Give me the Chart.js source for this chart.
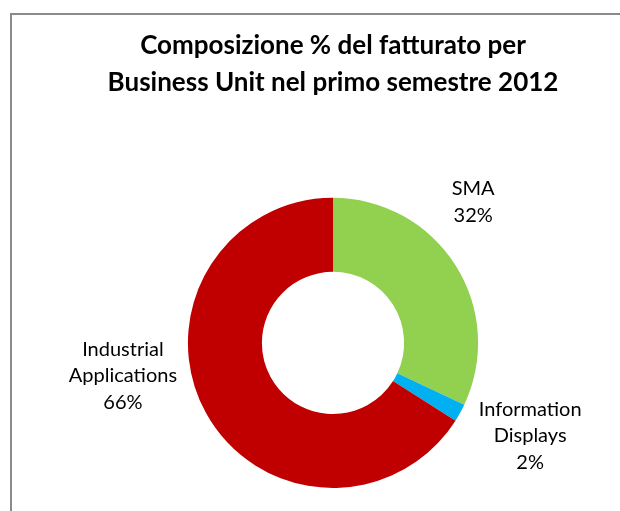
<!DOCTYPE html>
<html lang="it">
<head>
    <meta charset="UTF-8">
    <title>Composizione % del fatturato</title>
    <script src="https://cdn.jsdelivr.net/npm/chart.js"></script>
    <style>
        html, body { margin: 0; padding: 0; background: #fff; overflow: hidden; }
        #wrap { width: 620px; height: 511px; position: relative; }
    </style>
</head>
<body>
    <div id="wrap"><canvas id="fatturatoChart"></canvas></div>

    <script>
        // Business units and share of revenue (%)
        const units = ['SMA', 'Information Displays', 'Industrial Applications'];
        const labelLines = [['SMA'], ['Information', 'Displays'], ['Industrial', 'Applications']];
        const shares = [32, 2, 66];
        const colors = ['#92D050', '#00B0F0', '#C00000'];

        // label placement relative to the doughnut centre, in units of the outer radius
        const labelPlace = [
            { dx: 0.966, dy: -0.97 },
            { dx: 1.359, dy: 0.64 },
            { dx: -1.448, dy: 0.228 }
        ];

        const frame = {
            id: 'frame',
            beforeDraw(chart) {
                const ctx = chart.ctx;
                ctx.save();
                ctx.strokeStyle = '#8a8a8a';
                ctx.lineWidth = 2;
                ctx.beginPath();
                ctx.moveTo(11, 511);
                ctx.lineTo(11, 14);
                ctx.lineTo(620, 14);
                ctx.stroke();
                ctx.restore();
            }
        };

        const sliceLabels = {
            id: 'sliceLabels',
            afterDatasetsDraw(chart) {
                const ctx = chart.ctx;
                const arcs = chart.getDatasetMeta(0).data;
                ctx.save();
                ctx.fillStyle = '#000';
                ctx.font = '20px Lato';
                ctx.textAlign = 'center';
                ctx.textBaseline = 'middle';
                arcs.forEach((arc, i) => {
                    const r = arc.outerRadius;
                    const cx = arc.x + labelPlace[i].dx * r;
                    const cy = arc.y + labelPlace[i].dy * r;
                    const lines = labelLines[i].concat([shares[i] + '%']);
                    const lh = 26.5;
                    const top = cy - (lines.length - 1) * lh / 2;
                    lines.forEach((t, j) => ctx.fillText(t, cx, top + j * lh));
                });
                ctx.restore();
            }
        };

        new Chart(document.getElementById('fatturatoChart'), {
            type: 'doughnut',
            data: {
                labels: units,
                datasets: [{
                    data: shares,
                    backgroundColor: colors,
                    borderWidth: 0
                }]
            },
            options: {
                responsive: true,
                maintainAspectRatio: false,
                animation: false,
                cutout: '49%',
                layout: { padding: { left: 46, right: 0, top: 0, bottom: 23 } },
                plugins: {
                    legend: { display: false },
                    tooltip: { enabled: false },
                    title: {
                        display: true,
                        text: ['Composizione % del fatturato per', 'Business Unit nel primo semestre 2012'],
                        color: '#000',
                        font: { family: 'Lato', size: 26, weight: 'bold', lineHeight: 1.42 },
                        padding: { top: 27, bottom: 97 }
                    }
                }
            },
            plugins: [frame, sliceLabels]
        });
    </script>
</body>
</html>
